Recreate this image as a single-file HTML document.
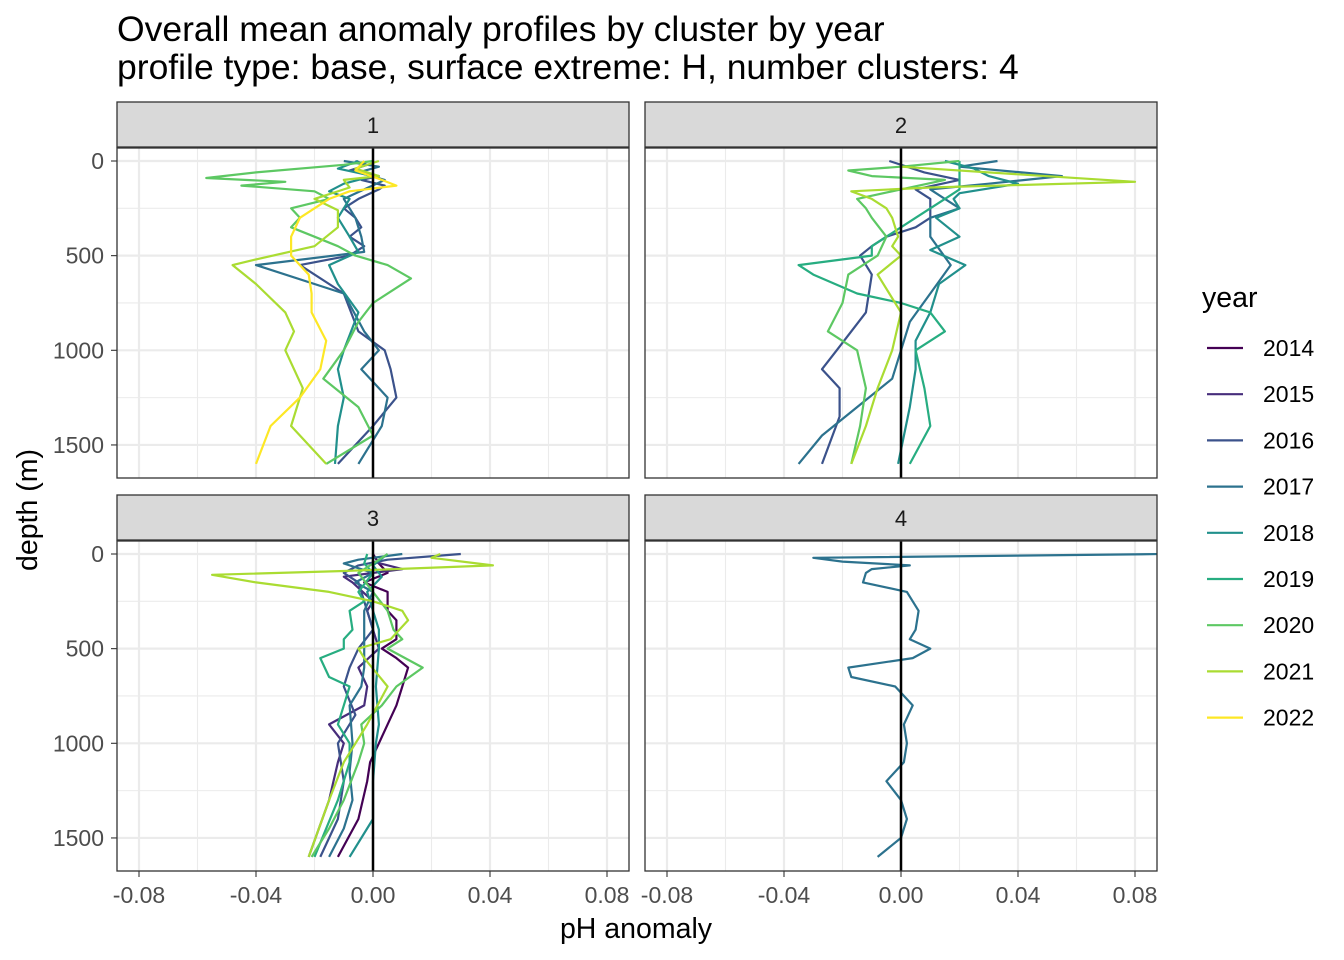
<!DOCTYPE html>
<html><head><meta charset="utf-8"><style>
body{margin:0;background:#fff;}
svg{display:block;font-family:"Liberation Sans",sans-serif;}
</style></head><body>
<svg id="chart" width="1344" height="960">
<text x="117" y="41" font-size="35.5" fill="#000">Overall mean anomaly profiles by cluster by year</text>
<text x="117" y="79" font-size="35.5" fill="#000">profile type: base, surface extreme: H, number clusters: 4</text>
<text x="636" y="938" font-size="28.5" text-anchor="middle">pH anomaly</text>
<text transform="translate(37,510) rotate(-90)" font-size="28.5" text-anchor="middle">depth (m)</text>
<g id="panels"></g>
<g id="legend">
<text x="1202" y="307" font-size="28.5">year</text>
</g>
</svg>
<script>
const years=[2014,2015,2016,2017,2018,2019,2020,2021,2022];
const colors=["#440154","#472D7B","#3B528B","#2C728E","#21908C","#27AD81","#5DC863","#AADC32","#FDE725"];
const xTicks=[-0.08,-0.04,0,0.04,0.08];
const xTickLabels=["-0.08","-0.04","0.00","0.04","0.08"];
const yTicks=[0,500,1000,1500];
const panelLabels=["1","2","3","4"];
const p1_2016d=[0,20,50,80,100,130,150,200,250,300,350,400,450,500,550,700,900,1000,1100,1250,1400,1600];
const p1_2016v=[-0.006,-0.002,-0.008,0.002,-0.004,0.004,0.002,-0.005,-0.01,-0.006,-0.004,-0.008,-0.003,-0.008,-0.025,-0.01,-0.005,0.004,0.006,0.008,0.0,-0.012];
const p1_2017d=[0,30,60,100,150,200,300,400,480,550,700,900,1000,1100,1250,1400,1600];
const p1_2017v=[-0.01,0.002,-0.005,0.004,-0.003,-0.01,-0.006,-0.004,-0.003,-0.04,-0.01,-0.003,0.002,-0.004,0.005,0.003,-0.005];
const p1_2018d=[0,40,80,120,160,200,300,400,480,550,650,800,1000,1100,1250,1400,1600];
const p1_2018v=[-0.005,-0.012,0.0,-0.01,-0.015,-0.008,-0.012,-0.008,-0.005,-0.015,-0.012,-0.005,-0.01,-0.012,-0.01,-0.012,-0.013];
const p1_2020d=[0,20,60,90,110,130,160,200,250,300,350,400,450,500,550,620,750,850,1000,1150,1300,1450,1600];
const p1_2020v=[0.0,-0.01,-0.04,-0.057,-0.03,-0.045,-0.02,-0.015,-0.028,-0.025,-0.028,-0.02,-0.012,-0.006,0.005,0.013,0.0,-0.005,-0.01,-0.017,-0.005,0.0,-0.016];
const p1_2021d=[0,40,80,100,140,200,260,350,450,520,550,650,800,900,1000,1200,1400,1600];
const p1_2021v=[0.002,-0.006,0.002,-0.01,-0.008,-0.02,-0.012,-0.012,-0.02,-0.04,-0.048,-0.04,-0.03,-0.027,-0.03,-0.024,-0.028,-0.016];
const p1_2022d=[0,50,100,130,160,200,250,300,400,500,600,700,800,950,1100,1250,1400,1600];
const p1_2022v=[-0.003,-0.006,0.003,0.008,-0.008,-0.015,-0.02,-0.025,-0.028,-0.028,-0.022,-0.021,-0.021,-0.016,-0.018,-0.025,-0.035,-0.04];
const p2_2016d=[0,30,60,100,150,200,250,300,350,400,450,500,600,800,1000,1100,1200,1350,1600];
const p2_2016v=[-0.004,0.002,0.008,0.02,0.005,0.01,0.01,0.01,0.005,-0.005,-0.01,-0.014,-0.01,-0.012,-0.022,-0.027,-0.021,-0.021,-0.027];
const p2_2017d=[0,30,80,120,150,200,250,300,400,550,700,850,1000,1150,1300,1450,1600];
const p2_2017v=[0.033,0.02,0.055,0.03,0.01,0.015,0.02,0.01,0.01,0.017,0.01,0.003,0.0,-0.003,-0.015,-0.027,-0.035];
const p2_2018d=[0,40,80,120,170,200,250,300,400,470,550,650,800,950,1100,1300,1600];
const p2_2018v=[0.015,0.025,0.03,0.04,0.02,0.018,0.02,0.012,0.02,0.01,0.022,0.013,0.01,0.005,0.005,0.003,-0.001];
const p2_2019d=[0,50,100,150,200,300,400,450,500,550,600,700,750,800,900,1000,1200,1400,1600];
const p2_2019v=[0.02,0.02,0.02,0.02,0.015,0.005,-0.005,-0.01,-0.01,-0.035,-0.03,-0.015,0.0,0.01,0.015,0.005,0.008,0.01,0.003];
const p2_2020d=[0,30,50,80,100,150,200,250,300,400,500,600,750,900,1000,1200,1400,1600];
const p2_2020v=[0.02,0.0,-0.018,-0.01,0.015,0.0,-0.015,-0.012,-0.01,-0.005,-0.008,-0.018,-0.02,-0.025,-0.015,-0.012,-0.014,-0.017];
const p2_2021d=[0,30,70,110,140,160,200,250,300,400,450,500,600,800,1000,1200,1400,1600];
const p2_2021v=[0.0,0.0,0.04,0.08,0.01,-0.017,-0.01,-0.005,-0.003,-0.001,-0.003,0.0,-0.008,0.0,-0.003,-0.008,-0.012,-0.017];
const p3_2014d=[0,50,100,150,200,300,350,450,500,550,600,700,800,900,1000,1100,1200,1400,1600];
const p3_2014v=[0.0,0.002,0.005,-0.003,0.005,0.005,0.008,0.008,0.003,0.008,0.012,0.01,0.008,0.005,0.002,-0.001,-0.002,-0.005,-0.012];
const p3_2015d=[0,40,80,120,150,250,300,400,500,600,700,800,900,1000,1100,1300,1600];
const p3_2015v=[0.0,0.0,0.01,-0.01,-0.007,0.0,-0.002,0.0,0.002,-0.005,-0.002,-0.003,-0.015,-0.01,-0.012,-0.015,-0.022];
const p3_2016d=[0,30,60,100,150,250,400,500,600,700,850,1000,1200,1400,1600];
const p3_2016v=[0.03,0.005,-0.005,-0.01,-0.005,-0.003,0.0,-0.005,-0.008,-0.01,-0.006,-0.012,-0.01,-0.012,-0.018];
const p3_2017d=[0,30,50,100,150,200,300,450,600,700,800,1000,1150,1300,1450,1600];
const p3_2017v=[0.01,-0.005,-0.01,0.0,-0.006,0.0,-0.003,-0.003,-0.003,-0.004,-0.008,-0.007,-0.008,-0.007,-0.01,-0.015];
const p3_2018d=[0,60,120,200,300,400,500,700,900,1000,1200,1400,1600];
const p3_2018v=[0.005,0.0,0.003,-0.002,0.0,0.002,0.002,0.001,0.002,0.001,0.0,0.0,-0.008];
const p3_2019d=[0,50,100,200,250,300,400,450,500,550,650,700,800,900,1000,1100,1300,1600];
const p3_2019v=[-0.002,-0.003,0.0,-0.005,-0.003,-0.008,-0.007,-0.01,-0.01,-0.018,-0.015,-0.008,-0.01,-0.012,-0.008,-0.008,-0.012,-0.02];
const p3_2020d=[0,50,100,200,300,400,450,500,600,700,800,900,1000,1100,1300,1450,1600];
const p3_2020v=[0.005,0.0,-0.005,0.0,0.005,0.007,0.01,0.005,0.017,0.008,0.003,-0.004,-0.003,-0.005,-0.01,-0.015,-0.021];
const p3_2021d=[0,20,60,90,110,150,200,250,300,350,450,500,550,700,900,1100,1300,1600];
const p3_2021v=[0.023,0.02,0.041,-0.01,-0.055,-0.04,-0.015,0.0,0.01,0.012,0.006,-0.005,-0.003,0.005,-0.002,-0.01,-0.015,-0.022];
const p4_2017d=[0,20,40,60,80,100,150,200,250,300,400,450,500,550,600,650,700,800,900,1000,1100,1200,1300,1400,1500,1600];
const p4_2017v=[0.09,-0.03,-0.02,0.003,-0.01,-0.012,-0.013,0.002,0.004,0.006,0.005,0.003,0.01,0.004,-0.018,-0.017,-0.002,0.004,0.001,0.002,0.001,-0.005,0.0,0.002,0.0,-0.008];
const series=[
[0,2,p1_2016d,p1_2016v],[0,3,p1_2017d,p1_2017v],[0,4,p1_2018d,p1_2018v],[0,6,p1_2020d,p1_2020v],[0,7,p1_2021d,p1_2021v],[0,8,p1_2022d,p1_2022v],
[1,2,p2_2016d,p2_2016v],[1,3,p2_2017d,p2_2017v],[1,4,p2_2018d,p2_2018v],[1,5,p2_2019d,p2_2019v],[1,6,p2_2020d,p2_2020v],[1,7,p2_2021d,p2_2021v],
[2,0,p3_2014d,p3_2014v],[2,1,p3_2015d,p3_2015v],[2,2,p3_2016d,p3_2016v],[2,3,p3_2017d,p3_2017v],[2,4,p3_2018d,p3_2018v],[2,5,p3_2019d,p3_2019v],[2,6,p3_2020d,p3_2020v],[2,7,p3_2021d,p3_2021v],
[3,3,p4_2017d,p4_2017v]];

const NS="http://www.w3.org/2000/svg";
function mk(t,a,p){const e=document.createElementNS(NS,t);for(const k in a)e.setAttribute(k,a[k]);p.appendChild(e);return e;}
const panelsG=document.getElementById('panels');
const PW=512, PH=330;
const origins=[[117,148],[645,148],[117,541],[645,541]];
function sx(v){return PW/2+v*2925;}
function sy(d){return 13+d*0.1893;}
origins.forEach((o,i)=>{
  const g=mk('g',{transform:`translate(${o[0]},${o[1]})`},panelsG);
  
  
  const strip=mk('rect',{x:0,y:-46,width:PW,height:45,fill:'#d9d9d9',stroke:'#333','stroke-width':1.3},g);
  
  
  const st=mk('text',{x:PW/2,y:-15,'font-size':22,'text-anchor':'middle',fill:'#1a1a1a'},g);st.textContent=panelLabels[i];
  
  
  mk('rect',{x:0,y:0,width:PW,height:PH,fill:'#fff'},g);
  for(let k=0;k<xTicks.length-1;k++){const m=(xTicks[k]+xTicks[k+1])/2;mk('line',{x1:sx(m),x2:sx(m),y1:0,y2:PH,stroke:'#ebebeb','stroke-width':1.1},g);}
  [250,750,1250].forEach(d=>mk('line',{x1:0,x2:PW,y1:sy(d),y2:sy(d),stroke:'#ebebeb','stroke-width':1.1},g));
  xTicks.forEach(v=>mk('line',{x1:sx(v),x2:sx(v),y1:0,y2:PH,stroke:'#ebebeb','stroke-width':2.2},g));
  yTicks.forEach(d=>mk('line',{x1:0,x2:PW,y1:sy(d),y2:sy(d),stroke:'#ebebeb','stroke-width':2.2},g));
  mk('clipPath',{id:'clip'+i},g).appendChild(document.createElementNS(NS,'rect')).setAttribute('width',PW);
  document.querySelector('#clip'+i+' rect').setAttribute('height',PH);
  const lg=mk('g',{'clip-path':`url(#clip${i})`},g);
  series.filter(s=>s[0]===i).forEach(s=>{
    const pts=s[2].map((d,j)=>sx(s[3][j]).toFixed(1)+','+sy(d).toFixed(1)).join(' ');
    const pl=mk('polyline',{points:pts,fill:'none',stroke:colors[s[1]],'stroke-width':2.2,'stroke-linejoin':'round'},lg);
    
    
  });
  mk('line',{x1:sx(0),x2:sx(0),y1:0,y2:PH,stroke:'#000','stroke-width':2.5},g);
  mk('rect',{x:0,y:0,width:PW,height:PH,fill:'none',stroke:'#333','stroke-width':1.3},g);
  if(i%2===0){yTicks.forEach(d=>{mk('line',{x1:-6,x2:0,y1:sy(d),y2:sy(d),stroke:'#333','stroke-width':1.1},g);
    const t=mk('text',{x:-13,y:sy(d)+8,'font-size':23,'text-anchor':'end',fill:'#4d4d4d'},g);t.textContent=d;
    
    });}
  if(i>=2){xTicks.forEach((v,k)=>{mk('line',{x1:sx(v),x2:sx(v),y1:PH,y2:PH+6,stroke:'#333','stroke-width':1.1},g);
    const t=mk('text',{x:sx(v),y:PH+32,'font-size':23,'text-anchor':'middle',fill:'#4d4d4d'},g);t.textContent=xTickLabels[k];
    
    });}
});
const leg=document.getElementById('legend');
years.forEach((y,i)=>{
  const cy=348+46.2*i;
  const l=mk('line',{x1:1207,x2:1243,y1:cy,y2:cy,stroke:colors[i],'stroke-width':2.2},leg);
  
  
  const t=mk('text',{x:1263,y:cy+8,'font-size':23,fill:'#000'},leg);t.textContent=y;
  
  
});
</script>
</body></html>
